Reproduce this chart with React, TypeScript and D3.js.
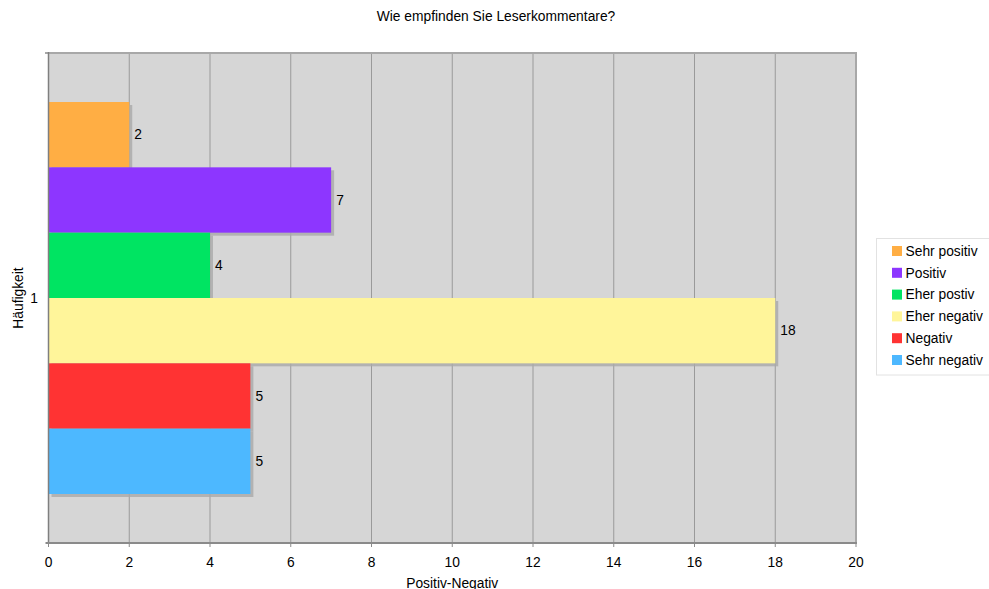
import React from "react";
import * as d3 from "d3";

const title = "Wie empfinden Sie Leserkommentare?";
const categories = ["1"];
const seriesNames = ["Sehr positiv", "Positiv", "Eher postiv", "Eher negativ", "Negativ", "Sehr negativ"];
const seriesValues = [2, 7, 4, 18, 5, 5];
const seriesColors = ["#ffae44", "#8d36ff", "#00e462", "#fff59a", "#ff3333", "#4db8ff"];
const xTicks = [0, 2, 4, 6, 8, 10, 12, 14, 16, 18, 20];

const W = 989;
const H = 589;
const margin = { top: 53, right: 133, bottom: 46, left: 48.5 };
const font = "'Liberation Sans', Arial, Helvetica, sans-serif";
const fs = 13.8;

export default function App() {
  const x = d3
    .scaleLinear()
    .domain([0, 20])
    .range([margin.left, W - margin.right]);

  const y0 = d3
    .scaleBand()
    .domain(categories)
    .range([margin.top, H - margin.bottom]);

  const y1 = d3
    .scaleBand()
    .domain(seriesNames)
    .range([0, y0.bandwidth()])
    .paddingOuter(0.75);

  const top = margin.top;
  const bottom = H - margin.bottom;
  const left = x(0);
  const right = x(20);

  const legendX = 876.5;
  const legendY = 238.5;
  const rowH = 21.8;

  return (
    <div style={{ position: "absolute", left: 0, top: 0 }}>
      <svg width={W} height={H} style={{ display: "block", fontFamily: font }}>
        <rect x={0} y={0} width={W} height={H} fill="#fff" />
        <text x={496} y={21} textAnchor="middle" fontSize={fs} fill="#000">
          {title}
        </text>

        {/* plot background */}
        <rect x={left} y={top} width={right - left} height={bottom - top} fill="#d6d6d6" />

        {/* gridlines */}
        {xTicks.slice(1, -1).map(t => (
          <line key={t} x1={x(t)} x2={x(t)} y1={top} y2={bottom} stroke="#9a9a9a" strokeWidth={1} />
        ))}

        {/* frame */}
        <line x1={45} x2={right + 1} y1={top} y2={top} stroke="#a8a8a8" strokeWidth={2} />
        <line x1={right} x2={right} y1={top} y2={bottom} stroke="#a8a8a8" strokeWidth={2} />

        {/* bars */}
        {categories.map(c =>
          seriesNames.map((s, i) => {
            const by = (y0(c) as number) + (y1(s) as number);
            const bh = y1.bandwidth();
            const bw = x(seriesValues[i]) - left;
            return (
              <g key={c + s}>
                <rect x={left + 3} y={by + 3} width={bw} height={bh} fill="#a9a9a9" opacity={0.8} />
                <rect x={left} y={by} width={bw} height={bh} fill={seriesColors[i]} />
                <text
                  x={x(seriesValues[i]) + 5}
                  y={by + bh / 2}
                  dy="0.35em"
                  fontSize={fs}
                  fill="#000"
                >
                  {seriesValues[i]}
                </text>
              </g>
            );
          })
        )}

        {/* axes */}
        <line x1={left} x2={left} y1={top - 1} y2={bottom} stroke="#7f7f7f" strokeWidth={1.5} />
        <line x1={left - 3} x2={right + 1} y1={bottom} y2={bottom} stroke="#8a8a8a" strokeWidth={2} />
        {xTicks.map(t => (
          <g key={t}>
            <line x1={x(t)} x2={x(t)} y1={bottom} y2={bottom + 4} stroke="#8a8a8a" strokeWidth={1} />
            <text x={x(t)} y={567} textAnchor="middle" fontSize={fs} fill="#000">
              {t}
            </text>
          </g>
        ))}

        {/* y category label */}
        {categories.map(c => (
          <text key={c} x={34} y={(y0(c) as number) + y0.bandwidth() / 2} dy="0.35em" textAnchor="middle" fontSize={fs}>
            {c}
          </text>
        ))}
        <text
          transform={`translate(22.5, ${(top + bottom) / 2}) rotate(-90)`}
          textAnchor="middle"
          fontSize={fs}
          fill="#000"
        >
          Häufigkeit
        </text>
        <text x={(left + right) / 2} y={588} textAnchor="middle" fontSize={fs} fill="#000">
          Positiv-Negativ
        </text>

        {/* legend */}
        <rect x={legendX} y={legendY} width={W - legendX + 2} height={136.5} fill="#fff" stroke="#e2e2e2" strokeWidth={1} />
        {seriesNames.map((s, i) => (
          <g key={s} transform={`translate(${legendX + 15.5}, ${legendY + 12.5 + i * rowH})`}>
            <rect x={0} y={-5} width={10} height={10} fill={seriesColors[i]} />
            <text x={13.5} y={0} dy="0.35em" fontSize={fs} fill="#000">
              {s}
            </text>
          </g>
        ))}
      </svg>
    </div>
  );
}
